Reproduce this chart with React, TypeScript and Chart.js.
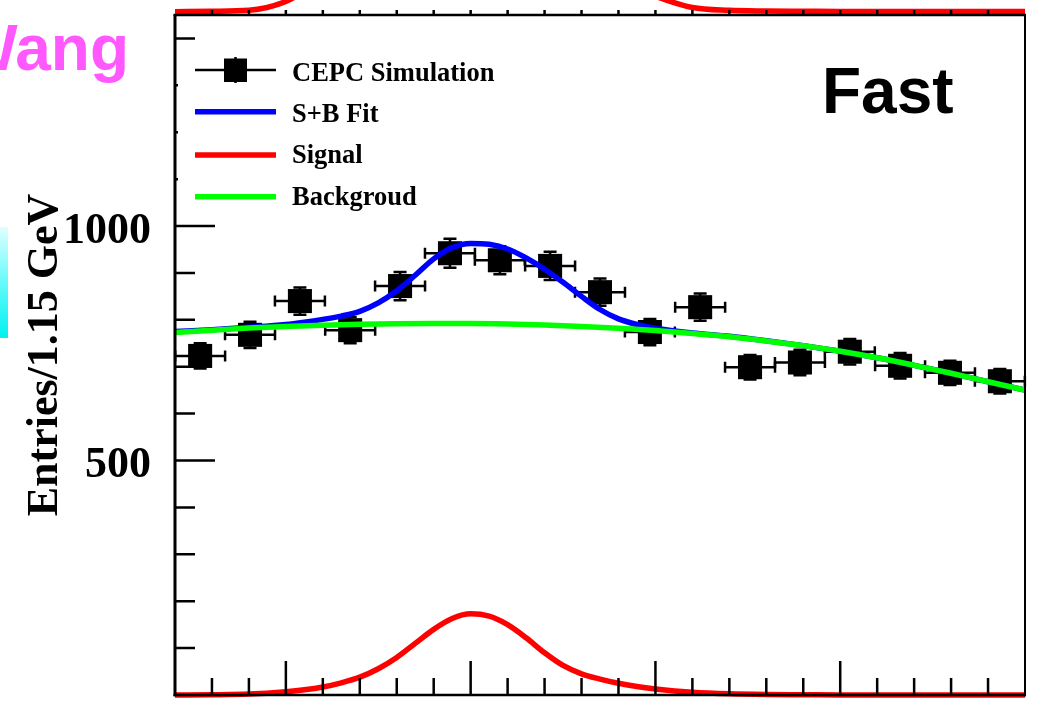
import React, { useEffect, useRef } from "react";
import { Chart, registerables } from "chart.js";

Chart.register(...registerables);

// ---- Histogram: invariant mass bins (GeV) ----
const binCenters = [
  112.68, 114.03, 115.38, 116.74, 118.09, 119.44, 120.79, 122.15, 123.5,
  124.85, 126.21, 127.56, 128.91, 130.26, 131.62, 132.97, 134.32,
];
const binHalfWidth = 0.676;
const entries = [723, 768, 840, 778, 872, 942, 927, 915, 859, 774, 827, 699, 709, 732, 702, 687, 669];
const entryErrors = [27, 28, 29, 28, 30, 31, 30, 30, 29, 28, 29, 26, 27, 27, 27, 26, 26];

// ---- Fit curves ----
const bkgMass = [112, 113, 114, 115, 116, 117, 118, 119, 120, 121, 122, 123, 124, 125, 126, 127, 128, 129, 130, 131, 132, 133, 134, 135];
const bkgValues = [773, 778, 782.5, 786, 788.5, 790.5, 791.5, 792, 792, 791, 789, 786, 782, 777, 771, 764, 755, 745, 733, 719, 703, 686, 668, 650];

const curveMass = [
  112, 113, 114, 115, 115.5, 116, 116.5, 117, 117.5, 118, 118.5, 119, 119.5, 120, 120.5, 121, 121.5,
  122, 122.5, 123, 123.5, 124, 124.5, 125, 126, 127, 128, 129, 130, 131, 132, 133, 134, 135,
];
const signalValues = [
  0, 0.5, 2, 7, 11, 17, 26, 38, 56, 80, 110, 140, 163, 173, 168, 150, 122,
  90, 63, 45, 34, 25, 18, 13, 6, 2.5, 1, 0.5, 0, 0, 0, 0, 0, 0,
];
const fitValues = [
  775, 779, 784, 790, 795, 801, 808, 818, 836, 862, 895, 930, 954, 963, 961, 951, 932,
  908, 880, 850, 822, 802, 790, 782, 772, 765, 755.5, 745, 733, 719, 703, 686, 668, 650,
];
// signal curve of the neighbouring pad above (only its tails reach this canvas)
const upperSignalValues = [
  0, 1, 3, 22, 45, 80, 120, 170, 220, 260, 300, 330, 350, 360, 355, 340, 300,
  260, 210, 160, 110, 75, 50, 33, 9, 3, 1.5, 1, 0.5, 0.5, 0.5, 0.5, 0.5, 0.5,
];

// ---- Axes ----
const xMin = 112;
const xMax = 135;
const yMin = 0;
const yMax = 1450;
const xTicks = [113, 114, 115, 116, 117, 118, 119, 120, 121, 122, 123, 124, 125, 126, 127, 128, 129, 130, 131, 132, 133, 134];
const xMajorTicks = [115, 120, 125, 130];
const yTicks = [100, 200, 300, 400, 500, 600, 700, 800, 900, 1000, 1100, 1200, 1300, 1400];
const yMajorTicks = [500, 1000];
const yTickLabels = ["500", "1000"];

const yTitle = "Entries/1.15 GeV";
const legendLabels = ["CEPC Simulation", "S+B Fit", "Signal", "Backgroud"];
const tagText = "Fast";
const authorText = "Wang";

const SERIF = '"Liberation Serif", "Times New Roman", serif';
const SANS = '"Liberation Sans", Arial, Helvetica, sans-serif';

const errorBarPlugin = {
  id: "errorBars",
  beforeDatasetDraw(chart: any, args: any) {
    if (chart.data.datasets[args.index].label !== legendLabels[0]) return;
    const { ctx, scales } = chart;
    const x = scales.x;
    const y = scales.y;
    ctx.save();
    ctx.strokeStyle = "#000";
    ctx.lineWidth = 2.5;
    binCenters.forEach((m, i) => {
      const px = x.getPixelForValue(m);
      const xl = x.getPixelForValue(m - binHalfWidth);
      const xr = x.getPixelForValue(m + binHalfWidth);
      const py = y.getPixelForValue(entries[i]);
      const yt = y.getPixelForValue(entries[i] + entryErrors[i]);
      const yb = y.getPixelForValue(entries[i] - entryErrors[i]);
      ctx.beginPath();
      ctx.moveTo(xl, py);
      ctx.lineTo(xr, py);
      ctx.moveTo(xl, py - 5.5);
      ctx.lineTo(xl, py + 5.5);
      ctx.moveTo(xr, py - 5.5);
      ctx.lineTo(xr, py + 5.5);
      ctx.moveTo(px, yt);
      ctx.lineTo(px, yb);
      ctx.moveTo(px - 6.5, yt);
      ctx.lineTo(px + 6.5, yt);
      ctx.moveTo(px - 6.5, yb);
      ctx.lineTo(px + 6.5, yb);
      ctx.stroke();
    });
    ctx.restore();
  },
};

const framePlugin = {
  id: "rootFrame",
  afterDatasetsDraw(chart: any) {
    const { ctx, chartArea: a, scales } = chart;
    const x = scales.x;
    const y = scales.y;
    ctx.save();
    ctx.strokeStyle = "#000";
    ctx.lineCap = "butt";

    // frame
    ctx.lineWidth = 2.5;
    ctx.beginPath();
    ctx.moveTo(a.left - 1.5, a.bottom);
    ctx.lineTo(a.right + 1, a.bottom);
    ctx.moveTo(a.left - 1.5, a.top);
    ctx.lineTo(a.right + 1, a.top);
    ctx.stroke();
    ctx.lineWidth = 3;
    ctx.beginPath();
    ctx.moveTo(a.left, a.top);
    ctx.lineTo(a.left, a.bottom + 1.2);
    ctx.stroke();
    ctx.lineWidth = 2;
    ctx.beginPath();
    ctx.moveTo(a.right, a.top);
    ctx.lineTo(a.right, a.bottom + 1.2);
    ctx.stroke();

    // x ticks (inward at the bottom, outward stubs at the top edge)
    ctx.lineWidth = 2.5;
    ctx.beginPath();
    xTicks.forEach((m) => {
      const px = x.getPixelForValue(m);
      const len = xMajorTicks.includes(m) ? 34 : 17;
      ctx.moveTo(px, a.bottom);
      ctx.lineTo(px, a.bottom - len);
      ctx.moveTo(px, a.top);
      ctx.lineTo(px, a.top - 5);
    });
    ctx.stroke();

    // y ticks
    ctx.beginPath();
    yTicks.forEach((v) => {
      const py = y.getPixelForValue(v);
      const len = yMajorTicks.includes(v) ? 40 : 20;
      ctx.moveTo(a.left, py);
      ctx.lineTo(a.left + len, py);
    });
    ctx.stroke();
    ctx.restore();
  },
  afterDraw(chart: any) {
    const { ctx, scales } = chart;
    const y = scales.y;
    ctx.save();

    // legend box
    ctx.fillStyle = "#fff";
    ctx.fillRect(178, 46, 327, 168);

    // data marker entry
    ctx.strokeStyle = "#000";
    ctx.lineWidth = 2.5;
    ctx.beginPath();
    ctx.moveTo(195, 70);
    ctx.lineTo(276, 70);
    ctx.moveTo(235.5, 57);
    ctx.lineTo(235.5, 83);
    ctx.stroke();
    ctx.fillStyle = "#000";
    ctx.fillRect(224, 58.5, 23, 23.5);

    // line entries
    const lineEntries: [number, string][] = [
      [111.7, "#0000ff"],
      [155, "#ff0000"],
      [196.7, "#00ff00"],
    ];
    ctx.lineWidth = 5.5;
    lineEntries.forEach(([ly, col]) => {
      ctx.strokeStyle = col;
      ctx.beginPath();
      ctx.moveTo(195, ly);
      ctx.lineTo(276, ly);
      ctx.stroke();
    });

    ctx.fillStyle = "#000";
    ctx.font = `bold 26.5px ${SERIF}`;
    ctx.textAlign = "left";
    ctx.textBaseline = "alphabetic";
    const baselines = [81, 122, 163, 205];
    legendLabels.forEach((t, i) => ctx.fillText(t, 292, baselines[i]));

    // "Fast" tag
    ctx.font = `bold 64px ${SANS}`;
    ctx.fillText(tagText, 822, 113);

    // author label, partly outside the canvas
    ctx.fillStyle = "#ff58ff";
    ctx.textAlign = "right";
    ctx.fillText(authorText, 129, 70);

    // palette strip at the left edge
    const g = ctx.createLinearGradient(0, 227, 0, 338);
    g.addColorStop(0, "#e0ffff");
    g.addColorStop(0.5, "#66fafa");
    g.addColorStop(1, "#00f0f0");
    ctx.fillStyle = g;
    ctx.fillRect(0, 227, 8, 111);

    // y tick labels
    ctx.fillStyle = "#000";
    ctx.font = `bold 44px ${SERIF}`;
    ctx.textAlign = "right";
    yMajorTicks.forEach((v, i) => {
      ctx.fillText(yTickLabels[i], 151, y.getPixelForValue(v) + 16.5);
    });

    // y title
    ctx.translate(57, 355);
    ctx.rotate(-Math.PI / 2);
    ctx.textAlign = "center";
    ctx.fillText(yTitle, 0, 0);
    ctx.restore();
  },
};

export default function App() {
  const canvasRef = useRef<HTMLCanvasElement | null>(null);

  useEffect(() => {
    const canvas = canvasRef.current;
    if (!canvas) return;
    const toXY = (xs: number[], ys: number[]) => xs.map((m, i) => ({ x: m, y: ys[i] }));
    const curve = {
      pointRadius: 0,
      borderWidth: 5.5,
      fill: false,
      cubicInterpolationMode: "monotone" as const,
    };
    const chart = new Chart(canvas, {
      type: "line",
      data: {
        datasets: [
          {
            ...curve,
            label: legendLabels[3],
            data: toXY(bkgMass, bkgValues),
            borderColor: "#00ff00",
            order: 0,
          },
          {
            ...curve,
            label: legendLabels[2],
            data: toXY(curveMass, signalValues),
            borderColor: "#ff0000",
            clip: false,
            order: 1,
          },
          {
            ...curve,
            label: legendLabels[1],
            data: toXY(curveMass, fitValues),
            borderColor: "#0000ff",
            order: 2,
          },
          {
            ...curve,
            label: "upper pad signal",
            data: toXY(curveMass, upperSignalValues),
            borderColor: "#ff0000",
            yAxisID: "yUpper",
            clip: false,
            order: 3,
          },
          {
            label: legendLabels[0],
            data: toXY(binCenters, entries),
            showLine: false,
            pointStyle: "rect",
            pointRadius: 17,
            pointBorderWidth: 0,
            pointBackgroundColor: "#000",
            borderColor: "#000",
            clip: false,
            order: 4,
          },
        ],
      },
      options: {
        animation: false,
        responsive: false,
        maintainAspectRatio: false,
        events: [],
        layout: { autoPadding: false, padding: { left: 175, right: 20, top: 15, bottom: 10 } },
        plugins: {
          legend: { display: false },
          tooltip: { enabled: false },
        },
        scales: {
          x: { type: "linear", min: xMin, max: xMax, display: false },
          y: { type: "linear", min: yMin, max: yMax, display: false },
          yUpper: { type: "linear", min: -1457, max: -7, display: false },
        },
      },
      plugins: [errorBarPlugin, framePlugin],
    } as any);
    return () => chart.destroy();
  }, []);

  return (
    <div style={{ position: "fixed", left: 0, top: 0, width: 1045, height: 705, background: "#fff" }}>
      <canvas ref={canvasRef} width={1045} height={705} style={{ display: "block", width: 1045, height: 705 }} />
    </div>
  );
}
